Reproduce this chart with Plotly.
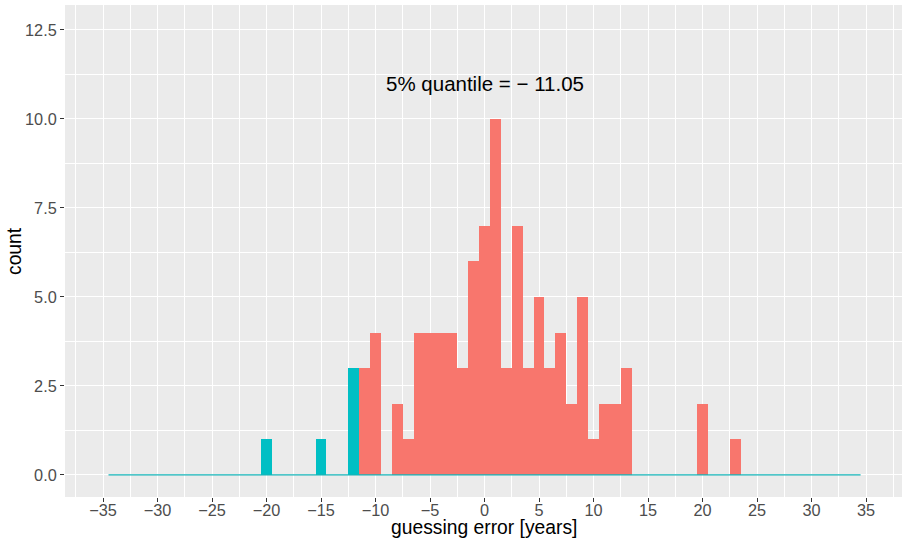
import plotly.graph_objects as go

# Histogram of guessing errors (binwidth 1 year), split at the 5% quantile
bin_first = -34
bin_last = 34

errors_below = [-20, -15, -12]
counts_below = [1, 1, 3]

errors_above = [-11, -10, -9, -8, -7, -6, -5, -4, -3, -2, -1, 0, 1, 2, 3, 4,
                5, 6, 7, 8, 9, 10, 11, 12, 13, 20, 23]
counts_above = [3, 4, 0, 2, 1, 4, 4, 4, 4, 3, 6, 7, 10, 3, 7, 3,
                5, 3, 4, 2, 5, 1, 2, 2, 3, 2, 1]

quantile_5 = -11.05
label_x = 0
label_y = 11

RED = "#F8766D"
CYAN = "#00BFC4"
FONT = "Liberation Sans, Arial, Helvetica, sans-serif"
TITLE_FONT = dict(family=FONT, size=19.3, color="black")

fig = go.Figure()

# zero-count bins show up as a thin line along the baseline
fig.add_trace(go.Scatter(
    x=[bin_first - 0.5, bin_last + 0.5], y=[0, 0],
    mode="lines", line=dict(color="#14B4B8", width=1.2),
    hoverinfo="skip", showlegend=False,
))
fig.add_trace(go.Bar(
    x=errors_above, y=counts_above, width=1,
    marker=dict(color=RED, line=dict(width=0)), showlegend=False,
))
fig.add_trace(go.Bar(
    x=errors_below, y=counts_below, width=1,
    marker=dict(color=CYAN, line=dict(width=0)), showlegend=False,
))

q_text = f"{abs(quantile_5):.2f}"
sign = "\u2212" if quantile_5 < 0 else ""
fig.add_annotation(
    x=label_x, y=label_y, xref="x", yref="y",
    text=f"5% quantile = {sign} {q_text}",
    showarrow=False, font=dict(family=FONT, size=20.5, color="black"),
    xanchor="center", yanchor="middle",
)

# axis titles placed relative to the panel edges
fig.add_annotation(
    x=0.5, y=0, xref="paper", yref="paper", yshift=-30,
    text="guessing error [years]", showarrow=False, font=TITLE_FONT,
    xanchor="center", yanchor="middle",
)
fig.add_annotation(
    x=0, y=0.5, xref="paper", yref="paper", xshift=-51,
    text="count", textangle=-90, showarrow=False, font=TITLE_FONT,
    xanchor="center", yanchor="middle",
)

axis_common = dict(
    showgrid=True, gridcolor="white", gridwidth=1.2,
    zeroline=False, showline=False,
    ticks="outside", ticklen=4, tickwidth=1, tickcolor="#333333",
    tickfont=dict(family=FONT, size=16.3, color="#4D4D4D"),
)

fig.update_layout(
    width=902, height=539,
    margin=dict(l=65, r=0, t=5, b=42),
    paper_bgcolor="white", plot_bgcolor="#EBEBEB",
    barmode="overlay", bargap=0,
    font=dict(family=FONT),
    xaxis=dict(
        **axis_common,
        range=[-38.49, 38.3], tick0=0, dtick=5, ticklabelstandoff=-6,
        minor=dict(dtick=2.5, tick0=0, showgrid=True, gridcolor="white",
                   gridwidth=0.6, ticks=""),
    ),
    yaxis=dict(
        **axis_common,
        range=[-0.62, 13.2], tick0=0, dtick=2.5, tickformat=".1f",
        minor=dict(dtick=1.25, tick0=0, showgrid=True, gridcolor="white",
                   gridwidth=0.6, ticks=""),
    ),
)

fig.write_html("out.html")
